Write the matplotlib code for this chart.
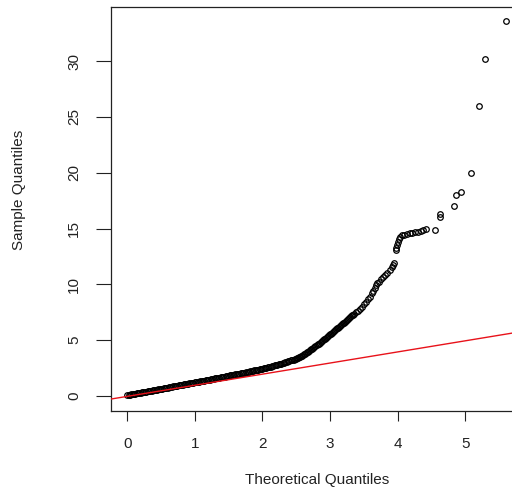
"""Q-Q plot of sample vs theoretical quantiles (R qqplot look)"""
import matplotlib
matplotlib.use('Agg')
import matplotlib.pyplot as plt

plt.rcParams['font.family'] = ['Liberation Sans', 'DejaVu Sans']

# points: dense lower band
band_x = [
    0.00, 0.02, 0.04, 0.06, 0.08, 0.10, 0.12, 0.14, 0.16, 0.18,
    0.20, 0.22, 0.24, 0.26, 0.28, 0.30, 0.32, 0.34, 0.36, 0.38,
    0.40, 0.42, 0.44, 0.46, 0.48, 0.50, 0.52, 0.54, 0.56, 0.58,
    0.60, 0.62, 0.64, 0.66, 0.68, 0.70, 0.72, 0.74, 0.76, 0.78,
    0.80, 0.82, 0.84, 0.86, 0.88, 0.90, 0.92, 0.94, 0.96, 0.98,
    1.00, 1.02, 1.04, 1.06, 1.08, 1.10, 1.12, 1.14, 1.16, 1.18,
    1.20, 1.22, 1.24, 1.26, 1.28, 1.30, 1.32, 1.34, 1.36, 1.38,
    1.40, 1.42, 1.44, 1.46, 1.48, 1.50, 1.52, 1.54, 1.56, 1.58,
    1.60, 1.62, 1.64, 1.66, 1.68, 1.70, 1.72, 1.74, 1.76, 1.78,
    1.80, 1.82, 1.84, 1.86, 1.88, 1.90, 1.92, 1.94, 1.96, 1.98,
    2.00, 2.02, 2.04, 2.06, 2.08, 2.10, 2.12, 2.14, 2.16, 2.18,
    2.20, 2.22, 2.24, 2.26, 2.28, 2.30, 2.32, 2.34, 2.36, 2.38,
    2.40, 2.42, 2.44, 2.46, 2.48, 2.50,
]
band_y = [
    0.08, 0.10, 0.13, 0.15, 0.17, 0.19, 0.22, 0.24, 0.26, 0.29,
    0.31, 0.33, 0.35, 0.38, 0.40, 0.42, 0.44, 0.47, 0.49, 0.51,
    0.54, 0.56, 0.58, 0.60, 0.63, 0.65, 0.67, 0.70, 0.72, 0.74,
    0.76, 0.79, 0.81, 0.83, 0.86, 0.88, 0.90, 0.92, 0.95, 0.97,
    0.99, 1.01, 1.04, 1.06, 1.08, 1.11, 1.13, 1.15, 1.17, 1.20,
    1.22, 1.24, 1.27, 1.29, 1.31, 1.34, 1.36, 1.39, 1.41, 1.43,
    1.46, 1.48, 1.50, 1.53, 1.55, 1.58, 1.60, 1.62, 1.65, 1.67,
    1.69, 1.72, 1.74, 1.77, 1.79, 1.81, 1.84, 1.86, 1.88, 1.91,
    1.93, 1.96, 1.98, 2.00, 2.03, 2.05, 2.07, 2.10, 2.12, 2.15,
    2.18, 2.20, 2.23, 2.26, 2.29, 2.31, 2.34, 2.37, 2.40, 2.42,
    2.45, 2.48, 2.51, 2.55, 2.58, 2.61, 2.64, 2.67, 2.71, 2.74,
    2.77, 2.80, 2.83, 2.87, 2.91, 2.95, 2.99, 3.03, 3.07, 3.11,
    3.15, 3.19, 3.23, 3.27, 3.31, 3.35,
]

# the bend upwards
steep_x = [
    2.515, 2.530, 2.545, 2.560, 2.575, 2.590, 2.605, 2.620, 2.635, 2.650,
    2.665, 2.680, 2.695, 2.710, 2.725, 2.740, 2.755, 2.770, 2.785, 2.800,
    2.815, 2.830, 2.845, 2.860, 2.875, 2.890, 2.905, 2.920, 2.935, 2.950,
    2.965, 2.980, 2.995, 3.010, 3.025, 3.040, 3.055, 3.070, 3.085, 3.100,
    3.115, 3.130, 3.145, 3.160, 3.175, 3.190, 3.205, 3.220, 3.235, 3.250,
    3.265, 3.280, 3.295, 3.310, 3.325, 3.340,
]
steep_y = [
    3.40, 3.44, 3.49, 3.53, 3.58, 3.62, 3.67, 3.73, 3.79, 3.85,
    3.91, 3.97, 4.03, 4.10, 4.18, 4.25, 4.33, 4.40, 4.48, 4.55,
    4.63, 4.70, 4.78, 4.85, 4.93, 5.00, 5.08, 5.15, 5.23, 5.30,
    5.38, 5.45, 5.53, 5.60, 5.68, 5.75, 5.83, 5.90, 5.98, 6.05,
    6.13, 6.20, 6.28, 6.35, 6.43, 6.50, 6.58, 6.66, 6.74, 6.82,
    6.90, 7.00, 7.08, 7.15, 7.22, 7.30,
]

# sparse upper tail
top_x = [
    3.35, 3.38, 3.41, 3.44, 3.47, 3.50, 3.53, 3.56, 3.59, 3.62,
    3.64, 3.66, 3.68, 3.70, 3.72, 3.75, 3.78, 3.82, 3.85, 3.89,
    3.91, 3.93, 3.95, 3.97, 3.98, 3.99, 4.00, 4.02, 4.04, 4.07,
    4.10, 4.14, 4.18, 4.22, 4.26, 4.30, 4.34, 4.38, 4.42, 4.56,
    4.62, 4.62, 4.83, 4.87, 4.94, 5.08, 5.21, 5.30, 5.61,
]
top_y = [
    7.35, 7.50, 7.66, 7.82, 8.00, 8.20, 8.42, 8.65, 8.88, 9.20,
    9.45, 9.68, 9.90, 10.08, 10.25, 10.45, 10.62, 10.80, 11.02, 11.30,
    11.55, 11.75, 11.95, 13.05, 13.30, 13.55, 13.80, 14.05, 14.28, 14.40,
    14.45, 14.50, 14.57, 14.63, 14.70, 14.73, 14.78, 14.85, 14.92, 14.86,
    16.05, 16.32, 17.01, 18.02, 18.24, 19.96, 25.96, 30.17, 33.60,
]

# reference line (qqline)
line_intercept = -0.03
line_slope = 0.995

x_ticks = [0, 1, 2, 3, 4, 5]
y_ticks = [0, 5, 10, 15, 20, 25, 30]

theoretical = band_x + steep_x + top_x
sample = band_y + steep_y + top_y

fig = plt.figure(figsize=(5.12, 4.93), dpi=100)
# right edge of the box falls just outside the picture, as in the original
ax = fig.add_axes([111 / 512, 82 / 493, 411 / 512, 404 / 493])

ax.plot(theoretical, sample, 'o', ms=4.0, mfc='none', mec='black', mew=0.9,
        zorder=2)
ax.axline((0, line_intercept), slope=line_slope, color='#e8121a', lw=1.0,
          zorder=3)

ax.set_xlim(-0.24, 5.84)
ax.set_ylim(-1.34, 34.84)
ax.set_xticks(x_ticks)
ax.set_yticks(y_ticks)

for s in ax.spines.values():
    s.set_linewidth(0.9)
    s.set_color('#222222')

ax.tick_params(axis='x', length=7.2, width=0.8, pad=11.5, labelsize=11,
               colors='#222222')
ax.tick_params(axis='y', length=10.5, width=0.8, pad=11, labelsize=11,
               colors='#222222')
plt.setp(ax.get_yticklabels(), rotation=90, va='center', ha='right')

ax.set_xlabel('Theoretical Quantiles', fontsize=11, color='#222222')
ax.set_ylabel('Sample Quantiles', fontsize=11, color='#222222')
ax.xaxis.set_label_coords((316.7 - 111) / 411, -(480 - 411) / 404)
ax.yaxis.set_label_coords(-(111 - 19) / 411, (411 - 190) / 404)
ax.xaxis.label.set_va('center')
ax.yaxis.label.set_va('center')

fig.savefig('out.png', dpi=100)
